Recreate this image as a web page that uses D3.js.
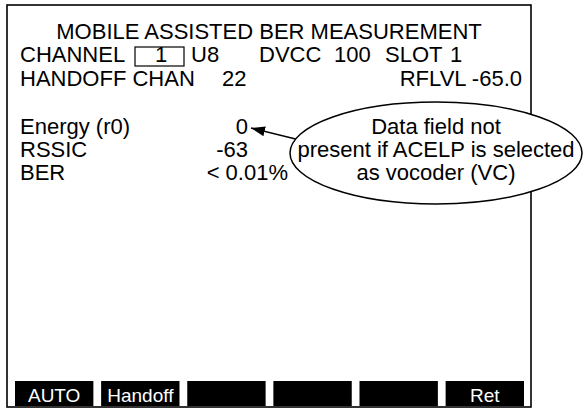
<!DOCTYPE html>
<html><head><meta charset="utf-8">
<script src="https://cdn.jsdelivr.net/npm/d3@7"></script>
<style>html,body{margin:0;padding:0;background:#fff}svg{display:block}</style>
</head><body><div id="chart"></div>
<script>
// ---- data ----
const title = "MOBILE ASSISTED BER MEASUREMENT";
const headerRow1 = ["CHANNEL", "1", "U8", "DVCC", "100", "SLOT", "1"];
const headerRow2 = ["HANDOFF CHAN", "22", "RFLVL -65.0"];
const fieldLabels = ["Energy (r0)", "RSSIC", "BER"];
const fieldValues = ["0", "-63", "< 0.01%"];
const calloutLines = ["Data field not", "present if ACELP is selected", "as vocoder (VC)"];
const softkeys = ["AUTO", "Handoff", "", "", "", "Ret"];

// ---- layout (positions kept separate from data) ----
const W = 584, H = 411;
const font = "'Liberation Sans', Arial, Helvetica, sans-serif";
const fs = 22;
const frame = {x0: 7, x1: 531, y0: 5, y1: 407};
const row1X = [20, 161, 191, 259, 334, 385, 450];
const row1Anchor = ["start", "middle", "start", "start", "start", "start", "start"];
const row2X = [20, 222, 522];
const row2Anchor = ["start", "start", "end"];
const valueX = [248, 248, 288];

const svg = d3.select("#chart").append("svg").attr("width", W).attr("height", H);

svg.append("rect").attr("x", frame.x0).attr("y", frame.y0)
  .attr("width", frame.x1 - frame.x0).attr("height", frame.y1 - frame.y0)
  .attr("fill", "none").attr("stroke", "#000").attr("stroke-width", 1.6);

svg.append("text").attr("x", (frame.x0 + frame.x1) / 2).attr("y", 39)
  .attr("text-anchor", "middle").attr("font-family", font).attr("font-size", fs).text(title);

// header row 1
svg.append("rect").attr("x", 135).attr("y", 47).attr("width", 49).attr("height", 19)
  .attr("fill", "none").attr("stroke", "#000").attr("stroke-width", 1.2);
svg.append("g").selectAll("text").data(headerRow1).join("text")
  .attr("x", (d, i) => row1X[i]).attr("y", 62).attr("text-anchor", (d, i) => row1Anchor[i])
  .attr("font-family", font).attr("font-size", fs).text(d => d);

// header row 2
svg.append("g").selectAll("text").data(headerRow2).join("text")
  .attr("x", (d, i) => row2X[i]).attr("y", 86).attr("text-anchor", (d, i) => row2Anchor[i])
  .attr("font-family", font).attr("font-size", fs).text(d => d);

// field rows
const yRows = d3.scalePoint().domain(d3.range(fieldLabels.length)).range([134, 180]);
svg.append("g").selectAll("text").data(fieldLabels).join("text")
  .attr("x", 20).attr("y", (d, i) => yRows(i))
  .attr("font-family", font).attr("font-size", fs).text(d => d);
svg.append("g").selectAll("text").data(fieldValues).join("text")
  .attr("x", (d, i) => valueX[i]).attr("y", (d, i) => yRows(i))
  .attr("text-anchor", "end")
  .attr("font-family", font).attr("font-size", fs).text(d => d);

// callout ellipse (drawn over the frame, white fill)
const ell = {cx: 436, cy: 153, rx: 146, ry: 51};
svg.append("ellipse").attr("cx", ell.cx).attr("cy", ell.cy).attr("rx", ell.rx).attr("ry", ell.ry)
  .attr("fill", "#fff").attr("stroke", "#000").attr("stroke-width", 1.5);
svg.append("g").selectAll("text").data(calloutLines).join("text")
  .attr("x", ell.cx).attr("y", (d, i) => yRows(i)).attr("text-anchor", "middle")
  .attr("font-family", font).attr("font-size", fs).text(d => d);

// arrow from ellipse edge to the Energy value
const tailY = 139;
const tailX = ell.cx - ell.rx * Math.sqrt(1 - Math.pow((tailY - ell.cy) / ell.ry, 2));
svg.append("defs").append("marker").attr("id", "ah").attr("viewBox", "0 0 14 10")
  .attr("refX", 14).attr("refY", 5).attr("markerWidth", 14).attr("markerHeight", 10)
  .attr("markerUnits", "userSpaceOnUse").attr("orient", "auto")
  .append("path").attr("d", "M0,0 L14,5 L0,10 z").attr("fill", "#000");
svg.append("line").attr("x1", tailX).attr("y1", tailY).attr("x2", 251).attr("y2", 128)
  .attr("stroke", "#000").attr("stroke-width", 1.5).attr("marker-end", "url(#ah)");

// softkeys
const xKeys = d3.scaleBand().domain(d3.range(softkeys.length)).range([15, 524]).paddingInner(0.09);
const keys = svg.append("g").selectAll("g").data(softkeys).join("g")
  .attr("transform", (d, i) => `translate(${xKeys(i)},381)`);
keys.append("rect").attr("width", xKeys.bandwidth()).attr("height", 25).attr("fill", "#000");
keys.append("text").attr("x", xKeys.bandwidth() / 2).attr("y", 21).attr("text-anchor", "middle")
  .attr("fill", "#fff").attr("font-family", font).attr("font-size", 19).text(d => d);
</script></body></html>
